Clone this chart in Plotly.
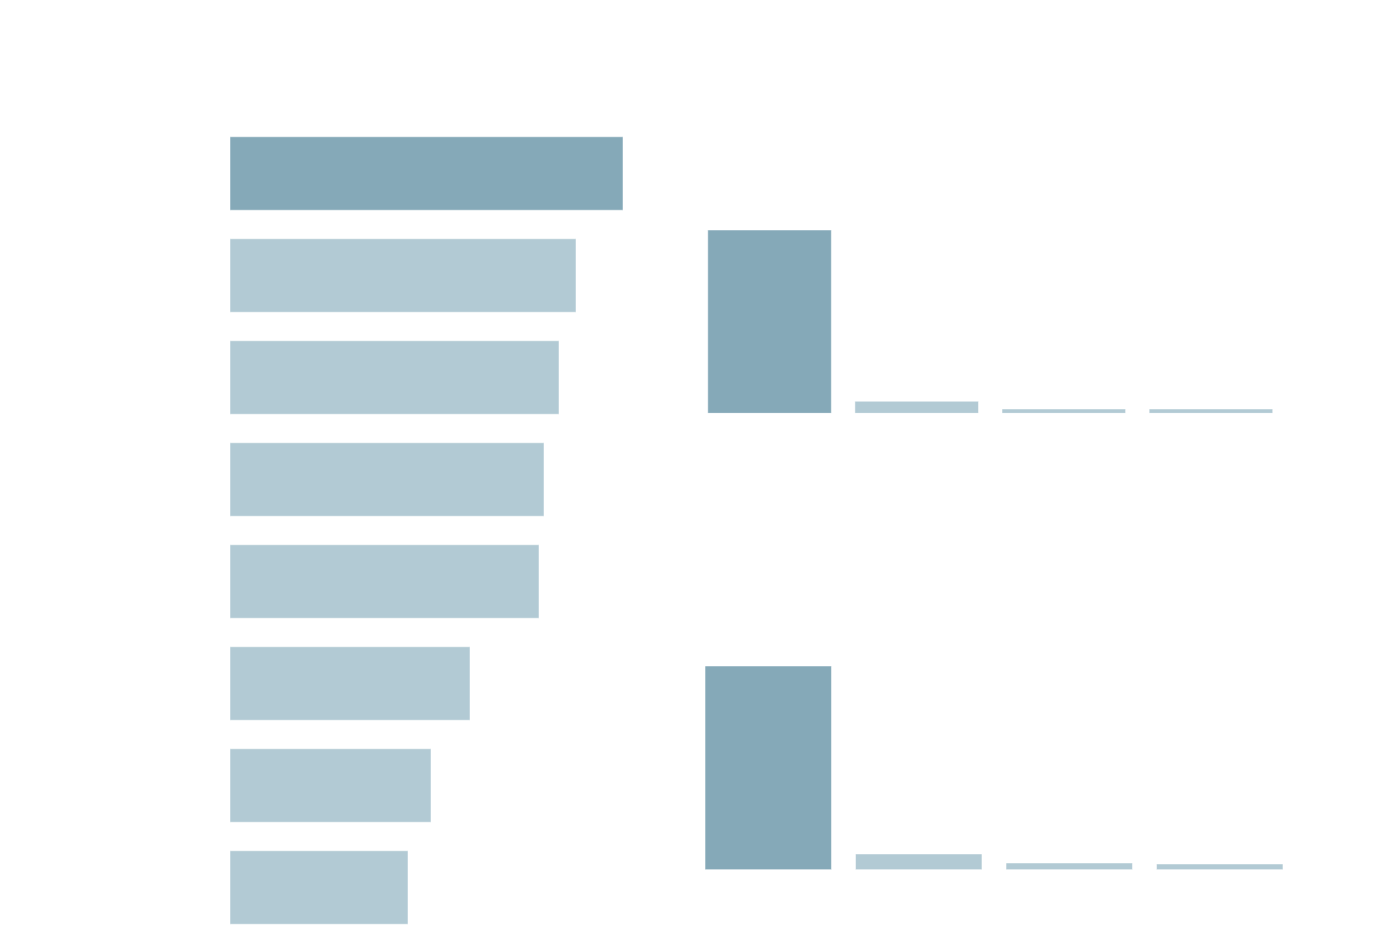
import plotly.graph_objects as go

# Left horizontal bar chart (top to bottom)
left_cats = ["A", "B", "C", "D", "E", "F", "G", "H"]
left_vals = [393, 346, 329, 314, 309, 240, 201, 178]

# Top-right column chart
tr_cats = ["P", "Q", "R", "S"]
tr_vals = [183, 12, 4.3, 4.3]

# Bottom-right column chart
br_cats = ["W", "X", "Y", "Z"]
br_vals = [203.5, 15.7, 6.7, 5.7]

DARK = "#85a9b8"
LIGHT = "#b2cad4"
W, H = 1380, 950
OFF = 8  # page offset of the figure


def colors(n):
    return [DARK] + [LIGHT] * (n - 1)


def xd(a, b):
    return [(a - OFF) / W, (b - OFF) / W]


def yd(bottom, top):
    return [1 - (bottom - OFF) / H, 1 - (top - OFF) / H]


line = dict(color="rgba(255,255,255,0.5)", width=1)

fig = go.Figure()
fig.add_trace(go.Bar(
    y=left_cats, x=left_vals, orientation="h",
    marker=dict(color=colors(len(left_vals)), line=line),
    xaxis="x", yaxis="y", hoverinfo="skip",
))
fig.add_trace(go.Bar(
    x=tr_cats, y=tr_vals, width=0.84,
    marker=dict(color=colors(len(tr_vals)), line=line),
    xaxis="x2", yaxis="y2", hoverinfo="skip",
))
fig.add_trace(go.Bar(
    x=br_cats, y=br_vals, width=0.84,
    marker=dict(color=colors(len(br_vals)), line=line),
    xaxis="x3", yaxis="y3", hoverinfo="skip",
))

hidden = dict(visible=False, showgrid=False, zeroline=False, fixedrange=True)

fig.update_layout(
    width=W, height=H,
    margin=dict(l=0, r=0, t=0, b=0),
    paper_bgcolor="white", plot_bgcolor="white",
    showlegend=False,
    bargap=0.28,
    xaxis=dict(domain=xd(230, 623), range=[0, max(left_vals)], anchor="y", **hidden),
    yaxis=dict(domain=yd(938.5, 122.5), autorange="reversed", anchor="x", **hidden),
    xaxis2=dict(domain=xd(696, 1284.5), anchor="y2", **hidden),
    yaxis2=dict(domain=yd(413.3, 230), range=[0, max(tr_vals)], anchor="x2", **hidden),
    xaxis3=dict(domain=xd(693, 1295), anchor="y3", **hidden),
    yaxis3=dict(domain=yd(869.7, 666), range=[0, max(br_vals)], anchor="x3", **hidden),
)

fig.write_html("out.html")
